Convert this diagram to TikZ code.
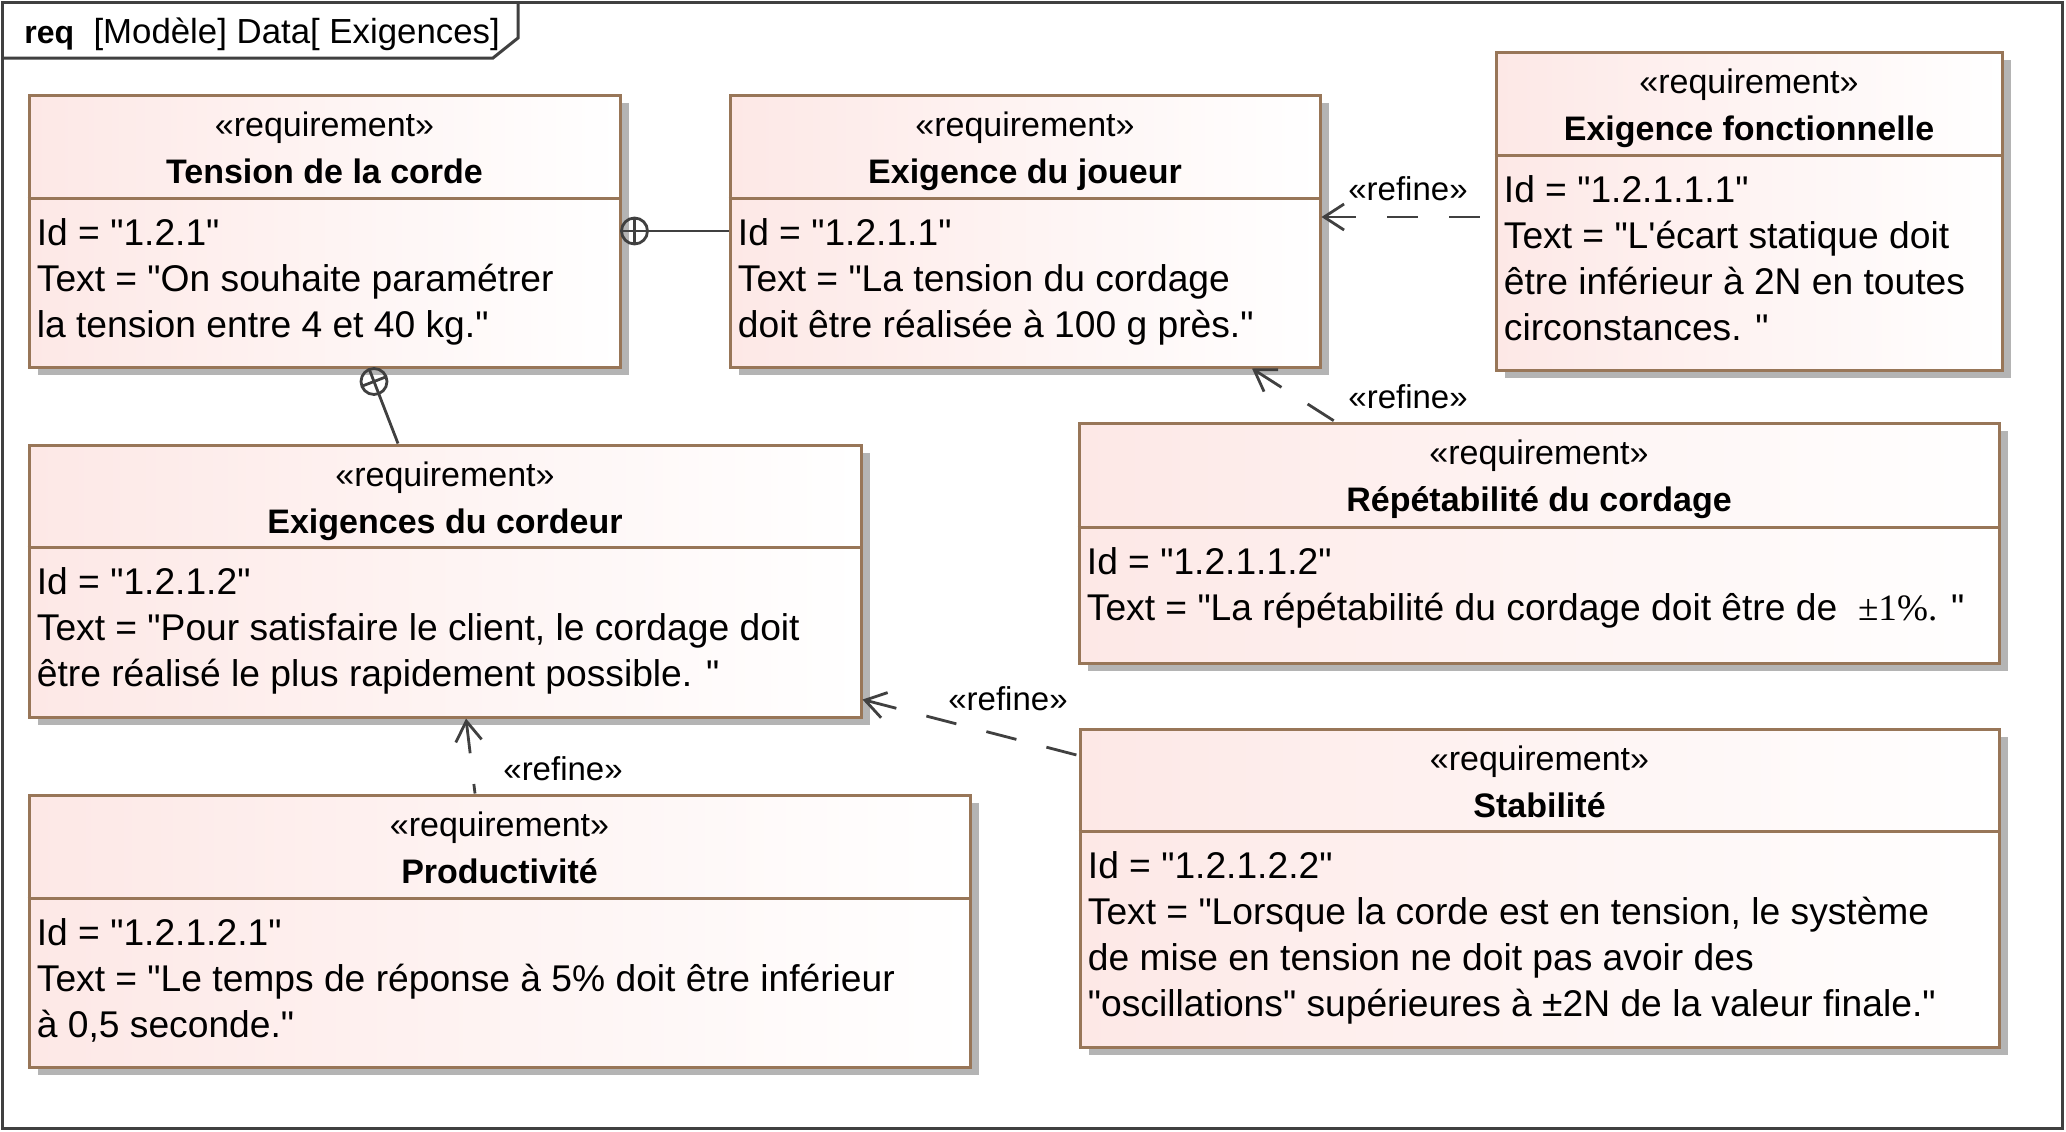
\documentclass[tikz,border=0pt]{standalone}
\usepackage{fontspec}
\usetikzlibrary{positioning,fit,shadows,arrows.meta,calc}
\newfontfamily\uml{Liberation Sans}
\newfontfamily\umlserif{Liberation Serif}
\definecolor{reqpink}{RGB}{253,232,230}
\definecolor{reqbrown}{RGB}{152,118,88}
\definecolor{reqshadow}{RGB}{180,180,180}
\definecolor{linegray}{RGB}{64,64,64}
\tikzset{
  reqbox/.style={draw=reqbrown, line width=1.5pt, inner sep=0pt, left color=reqpink, right color=white,
    drop shadow={shadow xshift=4.5pt, shadow yshift=-4pt, fill=reqshadow, opacity=1}},
  reqsep/.style={draw=reqbrown, line width=1.5pt},
  reqhead/.style={inner sep=0pt, align=center, font=\uml\fontsize{17}{23.5}\selectfont},
  reqbody/.style={inner sep=0pt, align=left, font=\uml\fontsize{18.6}{23}\selectfont},
  refine/.style={draw=linegray, line width=1.4pt, dash pattern=on 15.5pt off 15.5pt,
    arrows={Straight Barb[length=10pt,width=13pt]-}},
  owner/.style={draw=linegray, line width=1.4pt},
  stlabel/.style={inner sep=0pt, font=\uml\fontsize{16.5}{20}\selectfont},
  frame/.style={draw=linegray, line width=1.5pt}
}
\begin{document}
\begin{tikzpicture}[x=0.5pt, y=-0.5pt]
\path[use as bounding box, fill=white] (0,0) rectangle (2066,1131);

% diagram frame
\draw[frame] (2.5,2.5) rectangle (2062.5,1128.5);
\draw[frame] (2.5,58) -- (493,58) -- (518,38) -- (518,2.5);
\node[anchor=base west, inner sep=0pt, font=\uml\fontsize{17.4}{20}\selectfont] (diagname) at (24,43)
  {{\fontsize{16}{20}\selectfont\bfseries req}~~[Modèle] Data[ Exigences]};

% requirements
\node[reqbox, fit={(29,95) (620,367)}] (tension) {};
\draw[reqsep] (tension.west |- 0,198) coordinate (tension-sep) -- (tension.east |- 0,198);
\node[reqhead, below=9pt of tension.north] (tension-head) {«requirement»\\\textbf{Tension de la corde}};
\node[reqbody, below right=10pt and 4.5pt of tension-sep] (tension-body)
  {Id = "1.2.1"\\Text = "On souhaite paramétrer\\la tension entre 4 et 40 kg."};

\node[reqbox, fit={(730,95) (1320,367)}] (joueur) {};
\draw[reqsep] (joueur.west |- 0,198) coordinate (joueur-sep) -- (joueur.east |- 0,198);
\node[reqhead, below=9pt of joueur.north] (joueur-head) {«requirement»\\\textbf{Exigence du joueur}};
\node[reqbody, below right=10pt and 4.5pt of joueur-sep] (joueur-body)
  {Id = "1.2.1.1"\\Text = "La tension du cordage\\doit être réalisée à 100 g près."};

\node[reqbox, fit={(1496,52) (2002,370)}] (fonct) {};
\draw[reqsep] (fonct.west |- 0,155) coordinate (fonct-sep) -- (fonct.east |- 0,155);
\node[reqhead, below=9pt of fonct.north] (fonct-head) {«requirement»\\\textbf{Exigence fonctionnelle}};
\node[reqbody, below right=10pt and 4.5pt of fonct-sep] (fonct-body)
  {Id = "1.2.1.1.1"\\Text = "L'écart statique doit\\être inférieur à 2N en toutes\\circonstances. "};

\node[reqbox, fit={(29,445) (861,717)}] (cordeur) {};
\draw[reqsep] (cordeur.west |- 0,547) coordinate (cordeur-sep) -- (cordeur.east |- 0,547);
\node[reqhead, below=9pt of cordeur.north] (cordeur-head) {«requirement»\\\textbf{Exigences du cordeur}};
\node[reqbody, below right=10pt and 4.5pt of cordeur-sep] (cordeur-body)
  {Id = "1.2.1.2"\\Text = "Pour satisfaire le client, le cordage doit\\être réalisé le plus rapidement possible. "};

\node[reqbox, fit={(1079,423) (1999,663)}] (repet) {};
\draw[reqsep] (repet.west |- 0,527) coordinate (repet-sep) -- (repet.east |- 0,527);
\node[reqhead, below=9pt of repet.north] (repet-head) {«requirement»\\\textbf{Répétabilité du cordage}};
\node[reqbody, below right=10pt and 4.5pt of repet-sep] (repet-body)
  {Id = "1.2.1.1.2"\\Text = "La répétabilité du cordage doit être de~ {\umlserif ±1\%.} "};

\node[reqbox, fit={(29,795) (970,1067)}] (product) {};
\draw[reqsep] (product.west |- 0,898) coordinate (product-sep) -- (product.east |- 0,898);
\node[reqhead, below=9pt of product.north] (product-head) {«requirement»\\\textbf{Productivité}};
\node[reqbody, below right=10pt and 4.5pt of product-sep] (product-body)
  {Id = "1.2.1.2.1"\\Text = "Le temps de réponse à 5\% doit être inférieur\\à 0,5 seconde."};

\node[reqbox, fit={(1080,729) (1999,1047)}] (stab) {};
\draw[reqsep] (stab.west |- 0,831) coordinate (stab-sep) -- (stab.east |- 0,831);
\node[reqhead, below=9pt of stab.north] (stab-head) {«requirement»\\\textbf{Stabilité}};
\node[reqbody, below right=10pt and 4.5pt of stab-sep] (stab-body)
  {Id = "1.2.1.2.2"\\Text = "Lorsque la corde est en tension, le système\\de mise en tension ne doit pas avoir des\\"oscillations" supérieures à ±2N de la valeur finale."};

% containment
\coordinate[right=6.5pt of tension.east] (own1);
\draw[owner] (own1) circle[radius=6.5pt];
\draw[owner] ([xshift=-6.5pt]own1) -- (joueur.west);
\draw[owner] ([yshift=6.5pt]own1) -- ([yshift=-6.5pt]own1);

\coordinate[below right=6.5pt and 24.75pt of tension.south] (own2);
\coordinate (own2-end) at ([xshift=-23.5pt]cordeur.north);
\draw[owner] (own2) circle[radius=6.5pt];
\draw[owner] ($(own2)!-6.5pt!(own2-end)$) -- (own2-end);
\draw[owner] ($(own2)!6.5pt!90:(own2-end)$) -- ($(own2)!6.5pt!-90:(own2-end)$);

% refine
\coordinate (ref1-end) at ([yshift=-3pt]fonct.west);
\draw[refine] (joueur.east |- ref1-end) -- (ref1-end)
  node[stlabel, midway, anchor=base, yshift=8.5pt] (ref1) {«refine»};
\draw[refine] ([xshift=113.5pt]joueur.south) -- ([xshift=-102pt]repet.north)
  node[stlabel, anchor=base west, xshift=6pt, yshift=6.5pt] (ref2) {«refine»};
\draw[refine] ([yshift=9.5pt]cordeur.south east) -- ([yshift=-14pt]stab.north west)
  node[stlabel, midway, anchor=base, xshift=18.75pt, yshift=8.75pt] (ref3) {«refine»};
\draw[refine] ([xshift=10.5pt]cordeur.south) -- ([xshift=-12.25pt]product.north)
  node[stlabel, anchor=base west, xshift=13.5pt, yshift=6.5pt] (ref4) {«refine»};
\end{tikzpicture}
\end{document}
